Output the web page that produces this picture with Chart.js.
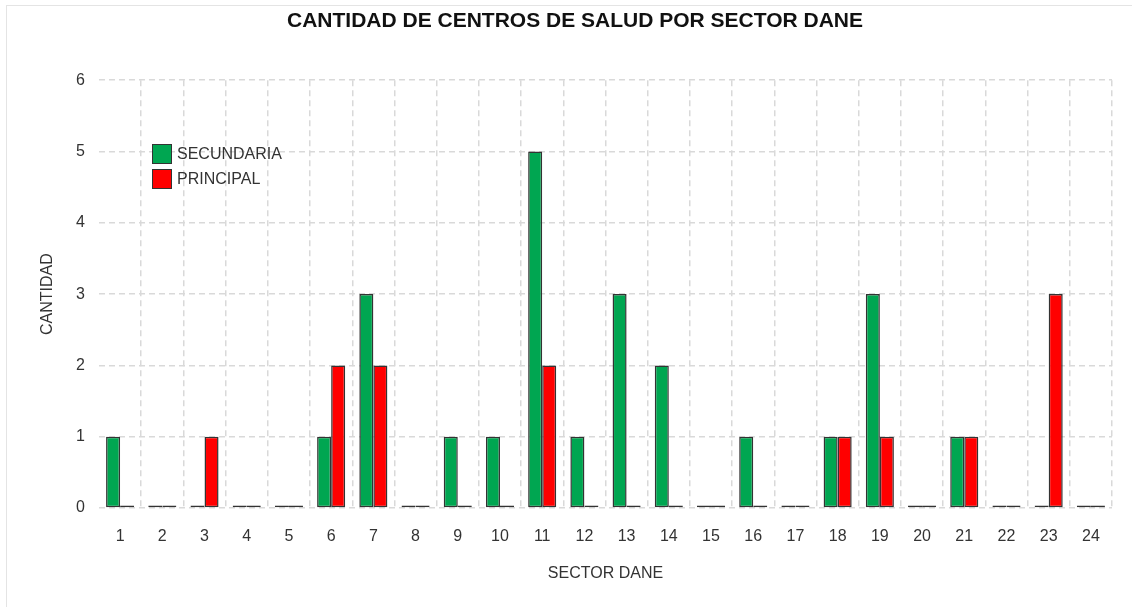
<!DOCTYPE html>
<html>
<head>
<meta charset="utf-8">
<script src="https://cdn.jsdelivr.net/npm/chart.js@4"></script>
<style>
  html, body { margin: 0; padding: 0; background: #fff; overflow: hidden; }
  #frame { position: absolute; left: 6px; top: 5px; width: 1140px; height: 620px; border: 1px solid #e4e4e4; }
  #myChart { position: absolute; left: 0; top: 0; }
</style>
</head>
<body>
<div id="frame"></div>
<canvas id="myChart" width="1132" height="607"></canvas>
<script>
const sectores = ["1","2","3","4","5","6","7","8","9","10","11","12","13","14","15","16","17","18","19","20","21","22","23","24"];
const secundaria = [1,0,0,0,0,1,3,0,1,1,5,1,3,2,0,1,0,1,3,0,1,0,0,0];
const principal = [0,0,1,0,0,2,2,0,0,0,2,0,0,0,0,0,0,1,1,0,1,0,3,0];
const yTicks = [0,1,2,3,4,5,6];

const FONT = "'Liberation Sans', Arial, sans-serif";

// leyenda dibujada dentro del area del grafico (arriba a la izquierda)
const legendInside = {
  id: "legendInside",
  afterDatasetsDraw(chart) {
    const ctx = chart.ctx;
    ctx.save();
    ctx.font = "16px " + FONT;
    ctx.textBaseline = "middle";
    chart.data.datasets.forEach((ds, i) => {
      const x = 152, y = 144 + i * 25;
      ctx.fillStyle = ds.backgroundColor;
      ctx.fillRect(x, y, 20, 20);
      ctx.strokeStyle = "#333";
      ctx.lineWidth = 1;
      ctx.strokeRect(x + 0.5, y + 0.5, 19, 19);
      ctx.fillStyle = "#333";
      ctx.fillText(ds.label, x + 25, y + 11);
    });
    ctx.restore();
  }
};

const data1 = {
  labels: sectores,
  datasets: [
    {
      label: "SECUNDARIA",
      data: secundaria,
      backgroundColor: "#00a651",
      borderColor: "#333",
      borderWidth: 1.5,
      borderSkipped: false,
      minBarLength: 2.5,
    },
    {
      label: "PRINCIPAL",
      data: principal,
      backgroundColor: "#ff0000",
      borderColor: "#333",
      borderWidth: 1.5,
      borderSkipped: false,
      minBarLength: 2.5,
    },
  ],
};

const config1 = {
  type: "bar",
  data: data1,
  options: {
    responsive: false,
    animation: false,
    categoryPercentage: 0.665,
    barPercentage: 1,
    layout: { padding: { left: 38, right: 20, top: 0, bottom: 0 } },
    plugins: {
      legend: { display: false },
      tooltip: { enabled: false },
      title: {
        display: true,
        text: "CANTIDAD DE CENTROS DE SALUD POR SECTOR DANE",
        color: "#111",
        font: { family: FONT, size: 21, weight: "bold" },
        padding: { top: 9, bottom: 46 },
      },
    },
    scales: {
      x: {
        grid: {
          color: (c) => (c.index === 0 || c.index >= sectores.length ? "rgba(0,0,0,0)" : "#d9d9d9"),
          lineWidth: 1.5,
          drawTicks: false,
        },
        border: { display: false, dash: [6, 4] },
        ticks: { color: "#333", font: { family: FONT, size: 16 }, padding: 19 },
        title: { display: true, text: "SECTOR DANE", color: "#333", font: { family: FONT, size: 16 }, padding: { top: 0, bottom: 24 } },
        afterFit: (s) => { s.height = 99; },
      },
      y: {
        min: 0,
        max: 6,
        afterBuildTicks: (s) => { s.ticks = yTicks.map((v) => ({ value: v })); },
        grid: { color: "#d9d9d9", lineWidth: 1.5, drawTicks: false },
        border: { display: false, dash: [6, 4] },
        ticks: { color: "#333", font: { family: FONT, size: 16 }, padding: 14 },
        title: { display: true, text: "CANTIDAD", color: "#333", font: { family: FONT, size: 16 }, padding: 0 },
        afterFit: (s) => { s.width = 61; },
      },
    },
  },
  plugins: [legendInside],
};

const myChart1 = new Chart(document.getElementById("myChart"), config1);
</script>
</body>
</html>
